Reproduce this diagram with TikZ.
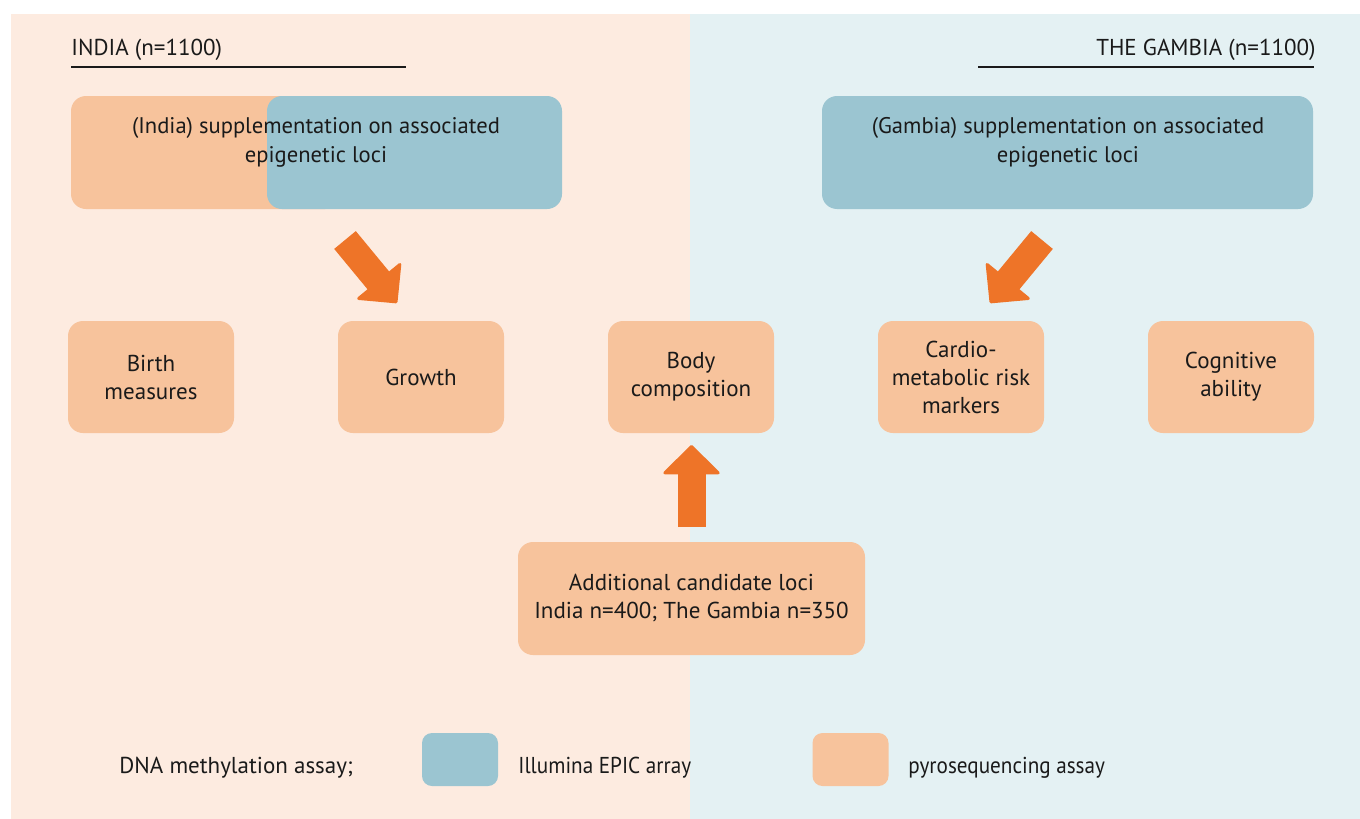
\documentclass[tikz,border=0pt]{standalone}
\usepackage{fontspec}
\setmainfont{PT Sans}
\newfontfamily\legendfont[FakeStretch=0.92]{PT Sans}
\usetikzlibrary{positioning,arrows.meta}

\definecolor{peachbg}{HTML}{FDEBE0}
\definecolor{bluebg}{HTML}{E4F1F3}
\definecolor{pyro}{HTML}{F7C39C}
\definecolor{epic}{HTML}{9BC5D1}
\definecolor{arroworange}{HTML}{EE7428}
\definecolor{txt}{HTML}{1A1A1A}

\tikzset{
  outcome/.style={fill=pyro, rounded corners=7.5pt, minimum width=83pt,
    minimum height=56pt, align=center, inner sep=0pt, outer sep=0pt, text=txt},
  keybox/.style={rounded corners=5pt, minimum width=38pt, minimum height=26.5pt,
    inner sep=0pt, outer sep=0pt},
  label/.style={anchor=base west, inner sep=0pt, text=txt},
  keylabel/.style={label, font=\legendfont\fontsize{11.5}{14}\selectfont},
  blockarrow/.style={arroworange, line width=14pt,
    -{Triangle[width=30pt,length=15pt,line width=1.5pt,round]}},
}

\begin{document}
\begin{tikzpicture}[x=0.5pt,y=-0.5pt,font=\fontsize{11.5}{14}\selectfont]
  \useasboundingbox (0,0) rectangle (1360,819);

  %% backgrounds
  \fill[peachbg] (11,14) rectangle (690,819);
  \fill[bluebg] (690,14) rectangle (1360,819);

  %% headings
  \node[label] (indiahead) at (71,55) {INDIA (n=1100)};
  \node[label, anchor=base east] (gambiahead) at (1316,55) {THE GAMBIA (n=1100)};
  \draw[line width=0.6pt, txt] (71,67) -- (406,67);
  \draw[line width=0.6pt, txt] (978,67) -- (1314,67);

  %% supplementation boxes
  \fill[pyro, rounded corners=7.5pt] (71,96) rectangle (340,209);
  \fill[epic, rounded corners=7.5pt] (267,96) rectangle (562,209);
  \fill[epic, rounded corners=7.5pt] (822,96) rectangle (1313,209);
  \node[align=center, text=txt, font=\fontsize{11.3}{14.5}\selectfont] (india) at (316,142)
    {(India) supplementation on associated\\epigenetic loci};
  \node[align=center, text=txt, font=\fontsize{11.3}{14.5}\selectfont] (gambia) at (1068,142)
    {(Gambia) supplementation on associated\\epigenetic loci};

  %% outcomes
  \node[outcome] (birth) at (151,377) {Birth\\measures};
  \node[outcome, right=52pt of birth] (growth) {Growth};
  \node[outcome, right=52pt of growth] (body) {Body\\composition};
  \node[outcome, right=52pt of body] (cardio) {Cardio-\\metabolic risk\\markers};
  \node[outcome, right=52pt of cardio] (cognitive) {Cognitive\\ability};

  %% candidate loci
  \node[outcome, minimum width=173.5pt, minimum height=56.5pt] (cand) at (691.5,598.5)
    {Additional candidate loci\\India n=400; The Gambia n=350};

  %% arrows
  \coordinate (indiatail) at (345,240);
  \coordinate (indiatip) at (397,303);
  \coordinate (gambiatail) at (1042,240);
  \coordinate (gambiatip) at (990,303);
  \draw[blockarrow] (indiatail) -- (indiatip);
  \draw[blockarrow] (gambiatail) -- (gambiatip);
  \draw[blockarrow, shorten <=7.5pt, shorten >=6pt] (cand.north) -- (cand.north |- body.south);

  %% legend
  \node[label] (assay) at (119,773) {DNA methylation assay;};
  \node[keybox, fill=epic] (epickey) at (460,759.5) {};
  \node[keylabel] (epictext) at (518,773) {Illumina EPIC array};
  \node[keybox, fill=pyro] (pyrokey) at (850.5,759.5) {};
  \node[keylabel] (pyrotext) at (908,773) {pyrosequencing assay};
\end{tikzpicture}
\end{document}
